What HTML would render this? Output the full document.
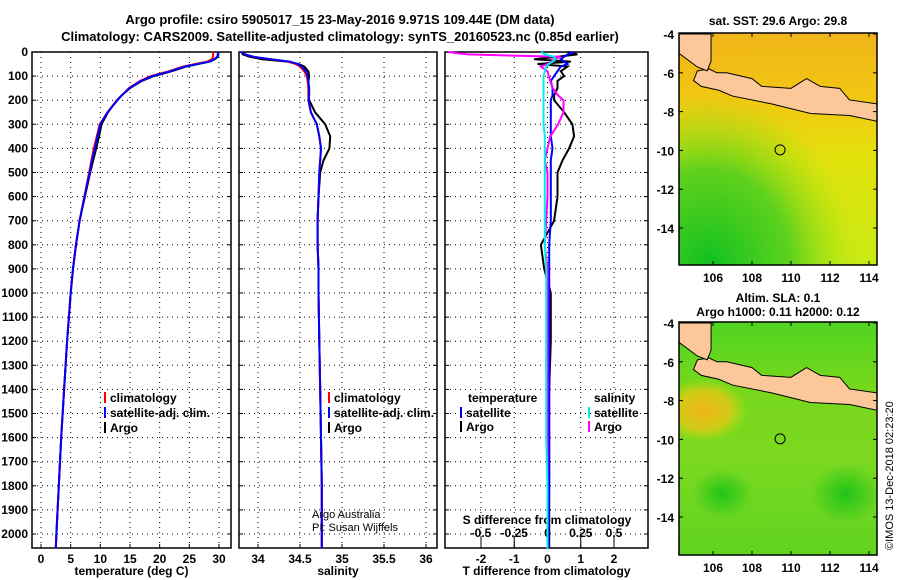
<!DOCTYPE html>
<html><head><meta charset="utf-8"><style>
body{margin:0;background:#fff;}
svg{display:block;font-family:"Liberation Sans",Arial,sans-serif;font-weight:bold;}
</style></head><body>
<svg id="c" width="900" height="580" viewBox="0 0 900 580">
<defs>
<linearGradient id="g1" x1="0" y1="0" x2="0" y2="1">
<stop offset="0" stop-color="#f0b418"/><stop offset="0.3" stop-color="#f2c812"/><stop offset="0.55" stop-color="#e2e20c"/><stop offset="1" stop-color="#c8ea14"/></linearGradient>
<radialGradient id="g1b" cx="0.15" cy="1" r="0.75">
<stop offset="0" stop-color="#10c020" stop-opacity="1"/><stop offset="0.55" stop-color="#40cc20" stop-opacity="0.8"/><stop offset="1" stop-color="#a0e010" stop-opacity="0"/></radialGradient>
<linearGradient id="g2" x1="0" y1="0" x2="0" y2="1">
<stop offset="0" stop-color="#50d420"/><stop offset="0.3" stop-color="#78d81c"/><stop offset="0.6" stop-color="#7ad820"/><stop offset="1" stop-color="#60d420"/></linearGradient>
<radialGradient id="g2o" cx="0.5" cy="0.5" r="0.5">
<stop offset="0" stop-color="#f0b418" stop-opacity="1"/><stop offset="0.6" stop-color="#e6c814" stop-opacity="0.8"/><stop offset="1" stop-color="#c0e010" stop-opacity="0"/></radialGradient>
<radialGradient id="g2g" cx="0.5" cy="0.5" r="0.5">
<stop offset="0" stop-color="#20c418" stop-opacity="1"/><stop offset="1" stop-color="#20c418" stop-opacity="0"/></radialGradient>
<clipPath id="cm1"><rect x="679" y="33" width="198" height="232"/></clipPath>
<clipPath id="cm2"><rect x="679" y="322" width="198" height="233"/></clipPath>
</defs>
<text x="340" y="24" font-size="13" text-anchor="middle">Argo profile: csiro 5905017_15 23-May-2016 9.971S 109.44E (DM data)</text>
<text x="340" y="41" font-size="13" text-anchor="middle">Climatology: CARS2009. Satellite-adjusted climatology: synTS_20160523.nc (0.85d earlier)</text>
<g id="g"></g>
<text x="893" y="550" font-size="11" font-weight="normal" transform="rotate(-90 893 550)">©IMOS 13-Dec-2018 02:23:20</text>
</svg>
<script>
// depth grid (m)
const depths=[0,10,20,30,40,50,60,80,100,120,150,180,200,250,300,350,400,450,500,600,700,800,900,1000,1200,1400,1600,1800,2000,2060];
const tempArgo=[29.8,29.9,29.8,29.3,28.5,26.5,24.5,22,19,17,15,13.6,12.8,11.3,10.2,9.8,9.3,8.8,8.3,7.4,6.5,5.9,5.4,5.0,4.4,3.9,3.4,3.0,2.6,2.5];
const tempClim=[29.0,29.0,29.0,28.8,28.0,26.0,24.0,21.5,18.5,16.7,14.8,13.6,12.8,11.2,9.9,9.4,8.9,8.5,8.1,7.3,6.5,5.9,5.4,5.0,4.4,3.9,3.4,3.0,2.6,2.5];
const tempSat=[29.8,29.8,29.7,29.2,28.4,26.4,24.3,21.8,18.8,16.9,14.9,13.6,12.9,11.2,10.0,9.5,9.1,8.6,8.2,7.35,6.5,5.9,5.4,5.0,4.4,3.9,3.4,3.0,2.6,2.5];
const salArgo=[33.8,33.82,33.9,34.05,34.35,34.48,34.55,34.6,34.61,34.6,34.6,34.6,34.61,34.68,34.8,34.86,34.85,34.78,34.74,34.72,34.71,34.71,34.72,34.72,34.73,34.74,34.75,34.76,34.76,34.76];
const salClim=[33.8,33.85,33.95,34.15,34.35,34.45,34.5,34.55,34.58,34.59,34.6,34.6,34.6,34.63,34.7,34.73,34.75,34.74,34.73,34.72,34.71,34.71,34.72,34.72,34.73,34.74,34.75,34.76,34.76,34.76];
const salSat=[33.8,33.85,33.95,34.15,34.38,34.47,34.52,34.57,34.59,34.6,34.61,34.61,34.6,34.63,34.7,34.73,34.75,34.74,34.73,34.72,34.71,34.71,34.72,34.72,34.73,34.74,34.75,34.76,34.76,34.76];
const dTArgo=[0.6,0.9,0.3,-0.4,0.7,-0.3,0.6,0.4,0.5,0.3,0.3,0.2,0.2,0.5,0.75,0.8,0.65,0.45,0.3,0.3,0.2,-0.2,-0.1,0.1,0.1,0.05,0.05,0.05,0.05,0.05];
const dTSat=[0.8,0.6,0.5,0.4,0.5,0.6,0.4,0.3,0.2,0.1,0.15,0.15,0.1,0.1,0.1,0.1,0.15,0.1,0.1,0.1,0.1,0.05,0.05,0.05,0.05,0.05,0.05,0.05,0.03,0.03];
const dSArgo=[-0.75,-0.6,0.1,0.05,0.03,0.0,-0.05,0.0,0.01,0.02,0.04,0.08,0.12,0.12,0.08,0.02,0.0,-0.02,0.0,0.0,-0.01,-0.02,0.0,0.0,0.0,0.0,0.0,0.0,0.0,0.0];
const dSSat=[-0.05,-0.02,0.05,0.06,0.04,0.01,-0.01,-0.02,-0.03,-0.03,-0.03,-0.03,-0.03,-0.03,-0.03,-0.02,-0.02,-0.02,-0.02,-0.02,-0.02,-0.02,-0.01,-0.01,-0.01,-0.01,-0.01,0.0,0.0,0.0];
const depthTicks=[0,100,200,300,400,500,600,700,800,900,1000,1100,1200,1300,1400,1500,1600,1700,1800,1900,2000];
const tempTicks=[0,5,10,15,20,25,30];
const salTicks=[34,34.5,35,35.5,36];
const salTickLabels=["34","34.5","35","35.5","36"];
const dTTicks=[-2,-1,0,1,2];
const dSTicks=[-0.5,-0.25,0,0.25,0.5];
const dSTickLabels=["-0.5","-0.25","0","0.25","0.5"];
const lonTicks=[106,108,110,112,114];
const latTicks=[-4,-6,-8,-10,-12,-14];
const floatLon=109.44, floatLat=-9.971;

const NS='http://www.w3.org/2000/svg';
const G=document.getElementById('g');
function mk(t,a,p){const e=document.createElementNS(NS,t);for(const k in a)e.setAttribute(k,a[k]);(p||G).appendChild(e);return e;}
const top0=52, bot=548;
const yD=d=>top0+d*(534-top0)/2000;
function lin(v0,p0,v1,p1){return v=>p0+(v-v0)*(p1-p0)/(v1-v0);}
const panels=[
 {x0:32,x1:231,xs:lin(0,41,30,219),ticks:tempTicks,labels:tempTicks.map(String),title:'temperature (deg C)',name:'temperature-panel'},
 {x0:239,x1:437,xs:lin(34,258,36,426),ticks:salTicks,labels:salTickLabels,title:'salinity',name:'salinity-panel'},
 {x0:445,x1:648,xs:lin(0,547.5,2,614),ticks:dTTicks,labels:dTTicks.map(String),title:'T difference from climatology',name:'difference-panel'}
];
panels.forEach(p=>{
 const gp=mk('g',{});  
 depthTicks.forEach(d=>{const y=yD(d);mk('line',{x1:p.x0,x2:p.x1,y1:y,y2:y,stroke:'#000','stroke-dasharray':'1 4','stroke-width':1},gp);
  mk('line',{x1:p.x0,x2:p.x0+4,y1:y,y2:y,stroke:'#000'},gp);mk('line',{x1:p.x1-4,x2:p.x1,y1:y,y2:y,stroke:'#000'},gp);});
 p.ticks.forEach((t,i)=>{const x=p.xs(t);mk('line',{x1:x,x2:x,y1:top0,y2:bot,stroke:'#000','stroke-dasharray':'1 4'},gp);
  mk('line',{x1:x,x2:x,y1:bot-4,y2:bot,stroke:'#000'},gp);
  const tx=mk('text',{x:x,y:bot+15,'font-size':12,'text-anchor':'middle'},gp);tx.textContent=p.labels[i];});
 mk('rect',{x:p.x0,y:top0,width:p.x1-p.x0,height:bot-top0,fill:'none',stroke:'#000','stroke-width':1.5},gp);
 const tt=mk('text',{x:(p.x0+p.x1)/2,y:575,'font-size':12,'text-anchor':'middle'},gp);tt.textContent=p.title;
});
depthTicks.forEach(d=>{const t=mk('text',{x:28,y:yD(d)+4,'font-size':12,'text-anchor':'end'});t.textContent=d;});
const sx=v=>panels[2].xs(v*4);
dSTicks.forEach((t,i)=>{const x=sx(t);mk('line',{x1:x,x2:x,y1:bot-12,y2:bot,stroke:'#000'});const tx=mk('text',{x:x,y:bot-11,'font-size':12,'text-anchor':'middle'});tx.textContent=dSTickLabels[i];});
const st=mk('text',{x:547,y:524,'font-size':12,'text-anchor':'middle'});st.textContent='S difference from climatology';
function line(xs,vals,col,name,w){const pts=vals.map((v,i)=>xs(v).toFixed(1)+','+yD(depths[i]).toFixed(1)).join(' ');
 const e=mk('polyline',{points:pts,fill:'none',stroke:col,'stroke-width':w||2});}
const P=panels;
line(P[0].xs,tempArgo,'#000','temp-argo-line');line(P[0].xs,tempClim,'#f00','temp-climatology-line');line(P[0].xs,tempSat,'#00f','temp-satellite-line');
line(P[1].xs,salArgo,'#000','sal-argo-line');line(P[1].xs,salClim,'#f00','sal-climatology-line');line(P[1].xs,salSat,'#00f','sal-satellite-line');
line(P[2].xs,dTArgo,'#000','dT-argo-line');line(P[2].xs,dTSat,'#00f','dT-satellite-line');line(sx,dSArgo,'#f0f','dS-argo-line');line(sx,dSSat,'#0ee','dS-satellite-line');
function leg(x,y,col,label,name){mk('rect',{x:x,y:y-10,width:2,height:11,fill:col});const t=mk('text',{x:x+6,y:y,'font-size':12});t.textContent=label;}
leg(104,402,'#f00','climatology','legend-temp-climatology');leg(104,417,'#00f','satellite-adj. clim.','legend-temp-satellite');leg(104,432,'#000','Argo','legend-temp-argo');
leg(328,402,'#f00','climatology','legend-sal-climatology');leg(328,417,'#00f','satellite-adj. clim.','legend-sal-satellite');leg(328,432,'#000','Argo','legend-sal-argo');
let t=mk('text',{x:468,y:402,'font-size':12});t.textContent='temperature';
t=mk('text',{x:594,y:402,'font-size':12});t.textContent='salinity';
leg(460,417,'#00f','satellite','legend-dT-satellite');leg(460,431,'#000','Argo','legend-dT-argo');
leg(588,417,'#0ee','satellite','legend-dS-satellite');leg(588,431,'#f0f','Argo','legend-dS-argo');
t=mk('text',{x:312,y:518,'font-size':11,'font-weight':'normal'});t.textContent='Argo Australia';
t=mk('text',{x:312,y:531,'font-size':11,'font-weight':'normal'});t.textContent='PI: Susan Wijffels';
// maps
const java=[[105.2,-5.9],[105.8,-5.8],[106.2,-6.0],[106.7,-6.0],[108,-6.3],[108.5,-6.7],[110,-6.8],[110.8,-6.3],[111.5,-6.7],[112.5,-6.8],[113,-7.4],[114.41,-7.6],[114.41,-8.5],[113,-8.2],[111,-8.1],[109,-7.6],[107,-7.2],[106.3,-6.9],[105.4,-6.7],[105.0,-6.4]];
const sumatra=[[104.26,-4],[105.9,-4],[105.9,-5.4],[105.7,-5.9],[105.2,-5.7],[104.26,-5.0]];
function map(y0,y1,clip,name,title1,title2){
 const gm=mk('g',{});  
 const lx=lin(106,713,114,869), ly=lin(-4,y0+1,-14,y0+195);
 const gc=mk('g',{'clip-path':'url(#'+clip+')'},gm);
 if(clip==='cm1'){
  mk('rect',{x:679,y:y0,width:198,height:y1-y0,fill:'url(#g1)'},gc);
  mk('rect',{x:679,y:y0,width:198,height:y1-y0,fill:'url(#g1b)'},gc);
 } else {
  mk('rect',{x:679,y:y0,width:198,height:y1-y0,fill:'url(#g2)'},gc);
  mk('ellipse',{cx:lx(105.5),cy:ly(-8.5),rx:45,ry:32,fill:'url(#g2o)'},gc);
  mk('ellipse',{cx:lx(112.8),cy:ly(-12.8),rx:35,ry:30,fill:'url(#g2g)'},gc);
  mk('ellipse',{cx:lx(106.5),cy:ly(-12.8),rx:30,ry:25,fill:'url(#g2g)'},gc);
 }
 [java,sumatra].forEach(poly=>mk('polygon',{points:poly.map(p=>lx(p[0])+','+ly(p[1])).join(' '),fill:'#fcc89a',stroke:'#000','stroke-width':1},gc));
 mk('circle',{cx:lx(floatLon),cy:ly(floatLat),r:5,fill:'none',stroke:'#000'},gm);
 mk('rect',{x:679,y:y0,width:198,height:y1-y0,fill:'none',stroke:'#000','stroke-width':1.5},gm);
 lonTicks.forEach(l=>{const x=lx(l);mk('line',{x1:x,x2:x,y1:y1,y2:y1-4,stroke:'#000'},gm);mk('line',{x1:x,x2:x,y1:y0,y2:y0+4,stroke:'#000'},gm);const tt=mk('text',{x:x,y:y1+17,'font-size':12,'text-anchor':'middle'},gm);tt.textContent=l;});
 latTicks.forEach(l=>{const y=ly(l);mk('line',{x1:679,x2:683,y1:y,y2:y,stroke:'#000'},gm);mk('line',{x1:873,x2:877,y1:y,y2:y,stroke:'#000'},gm);const tt=mk('text',{x:674,y:y+5,'font-size':12,'text-anchor':'end'},gm);tt.textContent=l;});
 let a=mk('text',{x:778,y:title2?y0-20:y0-8,'font-size':12,'text-anchor':'middle'},gm);a.textContent=title1;
 if(title2){a=mk('text',{x:778,y:y0-6,'font-size':12,'text-anchor':'middle'},gm);a.textContent=title2;}
}
map(33,265,'cm1','sst-map','sat. SST: 29.6 Argo: 29.8');
map(322,555,'cm2','sla-map','Altim. SLA: 0.1','Argo h1000: 0.11 h2000: 0.12');
</script>
</body></html>
